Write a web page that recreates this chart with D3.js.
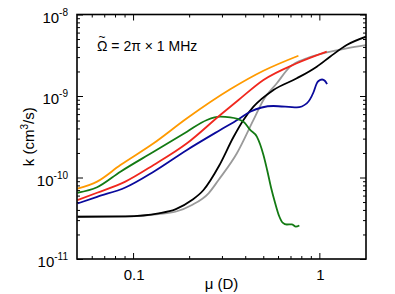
<!DOCTYPE html>
<html>
<head>
<meta charset="utf-8">
<script src="https://cdn.jsdelivr.net/npm/d3@7"></script>
<style>
  body { margin: 0; background: #fff; }
  svg { display: block; font-family: "Liberation Sans", Arial, Helvetica, sans-serif; }
</style>
</head>
<body>
<div id="chart"></div>
<script>
// values (mu in Debye, k in cm^3/s)
var muOrange = [0.0503, 0.0641, 0.0855, 0.1289, 0.1947, 0.3322, 0.501, 0.772];
var kOrange  = [7.3e-11, 8.9e-11, 1.42e-10, 2.63e-10, 5.33e-10, 1.208e-9, 2.04e-9, 3.12e-9];

var muGreen = [0.0503, 0.0641, 0.0855, 0.1289, 0.1947, 0.2493, 0.2937, 0.3322, 0.3914, 0.4252, 0.4618,
               0.501, 0.5244, 0.5511, 0.5789, 0.6081, 0.635, 0.669, 0.7115, 0.748, 0.781];
var kGreen  = [6.5e-11, 7.6e-11, 1.178e-10, 2.07e-10, 3.65e-10, 5.08e-10, 5.57e-10, 5.48e-10, 4.84e-10, 3.83e-10, 3.17e-10,
               1.888e-10, 1.236e-10, 7.43e-11, 4.87e-11, 3.37e-11, 2.8e-11, 2.65e-11, 2.66e-11, 2.5e-11, 2.58e-11];

var muRed = [0.0503, 0.0641, 0.0909, 0.1289, 0.1947, 0.2937, 0.3681, 0.501, 0.7568, 1.0956];
var kRed  = [5.29e-11, 6.5e-11, 8.9e-11, 1.423e-10, 2.63e-10, 5.85e-10, 8.93e-10, 1.571e-9, 2.52e-9, 3.5e-9];

var muBlue = [0.0503, 0.0641, 0.0909, 0.1289, 0.1947, 0.2937, 0.3681, 0.4252, 0.5669, 0.757, 0.856,
              0.929, 0.9685, 0.99, 1.034, 1.073, 1.10];
var kBlue  = [4.8e-11, 5.8e-11, 7.54e-11, 1.178e-10, 2.18e-10, 3.83e-10, 5.18e-10, 6.42e-10, 7.54e-10, 7.25e-10, 8.13e-10,
              1.104e-9, 1.43e-9, 1.528e-9, 1.594e-9, 1.528e-9, 1.40e-9];

var muBlack = [0.0503, 0.0909, 0.1372, 0.1686, 0.2071, 0.2389, 0.2901, 0.346, 0.3914, 0.4429, 0.5669,
               0.7568, 0.9685, 1.1409, 1.4018, 1.779];
var kBlack  = [3.3e-11, 3.34e-11, 3.64e-11, 4.07e-11, 5.29e-11, 7.03e-11, 1.403e-10, 3.14e-10, 5.08e-10, 7.39e-10, 1.185e-9,
               1.649e-9, 2.29e-9, 3.03e-9, 4.22e-9, 5.34e-9];

var muGray = [0.0503, 0.0909, 0.1372, 0.1686, 0.2071, 0.2542, 0.2876, 0.3609, 0.4429, 0.501, 0.5912,
              0.6966, 0.856, 1.0956, 1.4018, 1.779];
var kGray  = [3.3e-11, 3.32e-11, 3.56e-11, 3.8e-11, 4.6e-11, 6.4e-11, 9.32e-11, 1.98e-10, 5.08e-10, 8.93e-10, 1.432e-9,
              2.29e-9, 2.9e-9, 3.42e-9, 3.85e-9, 4.22e-9];

var xMajor = [0.1, 1];
var xMinor = [0.06, 0.07, 0.08, 0.09, 0.2, 0.3, 0.4, 0.5, 0.6, 0.7, 0.8, 0.9];
var yMajor = [1e-11, 1e-10, 1e-9, 1e-8];
var yMinor = [];
[1e-11, 1e-10, 1e-9].forEach(function(d) {
  for (var m = 2; m <= 9; m++) yMinor.push(m * d);
});

var width = 395, height = 294;
var margin = {top: 14.5, right: 29, bottom: 35, left: 77};
var w = width - margin.left - margin.right,
    h = height - margin.top - margin.bottom;

var x = d3.scaleLog().domain([0.05, 1.78]).range([0, w]);
var y = d3.scaleLog().domain([1e-11, 1e-8]).range([h, 0]);

var svg = d3.select("#chart").append("svg")
  .attr("width", width)
  .attr("height", height);

var g = svg.append("g")
  .attr("transform", "translate(" + margin.left + "," + margin.top + ")");

g.append("defs").append("clipPath").attr("id", "clip")
  .append("rect").attr("width", w).attr("height", h);

// ticks, all pointing inward, on all four sides
function tickAxes(xs, ys, size) {
  g.append("g").attr("transform", "translate(0," + h + ")")
    .call(d3.axisBottom(x).tickValues(xs).tickSize(-size).tickFormat(""));
  g.append("g")
    .call(d3.axisTop(x).tickValues(xs).tickSize(-size).tickFormat(""));
  g.append("g")
    .call(d3.axisLeft(y).tickValues(ys).tickSize(-size).tickFormat(""));
  g.append("g").attr("transform", "translate(" + w + ",0)")
    .call(d3.axisRight(y).tickValues(ys).tickSize(-size).tickFormat(""));
}
tickAxes(xMajor, yMajor, 6);
tickAxes(xMinor, yMinor, 3);
g.selectAll(".domain").remove();
g.selectAll(".tick line").attr("stroke", "#000").attr("stroke-width", 1);

// curves
var series = [
  {mu: muGray,   k: kGray,   color: "#9a9a9a"},
  {mu: muBlack,  k: kBlack,  color: "#000000"},
  {mu: muBlue,   k: kBlue,   color: "#0a0a9c"},
  {mu: muGreen,  k: kGreen,  color: "#137a13"},
  {mu: muRed,    k: kRed,    color: "#f0281e"},
  {mu: muOrange, k: kOrange, color: "#ff9a00"}
];

var line = d3.line()
  .curve(d3.curveMonotoneX)
  .x(function(d) { return x(d[0]); })
  .y(function(d) { return y(d[1]); });

g.append("g").attr("clip-path", "url(#clip)")
  .selectAll("path").data(series).enter()
  .append("path")
    .attr("d", function(s) { return line(s.mu.map(function(m, i) { return [m, s.k[i]]; })); })
    .attr("fill", "none")
    .attr("stroke", function(s) { return s.color; })
    .attr("stroke-width", 1.8)
    .attr("stroke-linejoin", "round");

// frame
g.append("rect")
  .attr("width", w).attr("height", h)
  .attr("fill", "none").attr("stroke", "#000").attr("stroke-width", 1.6);

// tick labels
var yl = g.append("g").attr("font-size", 15).attr("fill", "#000");
yMajor.forEach(function(v) {
  var t = yl.append("text")
    .attr("x", -9).attr("y", y(v) + 8)
    .attr("text-anchor", "end");
  t.append("tspan").text("10");
  t.append("tspan").attr("font-size", 10).attr("dy", -7)
    .text("-" + Math.abs(Math.round(Math.log10(v))));
});

var xl = g.append("g").attr("font-size", 15).attr("fill", "#000");
xMajor.forEach(function(v) {
  xl.append("text")
    .attr("x", x(v) + 1).attr("y", h + 21)
    .attr("text-anchor", "middle")
    .text(v === 1 ? "1" : String(v));
});

// axis titles
g.append("text")
  .attr("x", w / 2).attr("y", h + 30)
  .attr("text-anchor", "middle").attr("font-size", 15)
  .text("\u03bc (D)");

var yt = g.append("text")
  .attr("transform", "translate(" + (-43.5) + "," + (h / 2) + ") rotate(-90)")
  .attr("text-anchor", "middle").attr("font-size", 15);
yt.append("tspan").text("k (cm");
yt.append("tspan").attr("font-size", 10).attr("dy", -6).text("3");
yt.append("tspan").attr("dy", 6).text("/s)");

// annotation: Omega with a tilde above it, kept in one text element
var ann = g.append("text")
  .attr("x", 20).attr("y", 36)
  .attr("font-size", 14);
ann.append("tspan").text("\u03a9");
ann.append("tspan").attr("font-size", 12).attr("dx", -8.9).attr("dy", -9.5).text("~");
ann.append("tspan").attr("dx", 1.9).attr("dy", 9.5).text(" = 2\u03c0 \u00d7 1 MHz");
</script>
</body>
</html>
